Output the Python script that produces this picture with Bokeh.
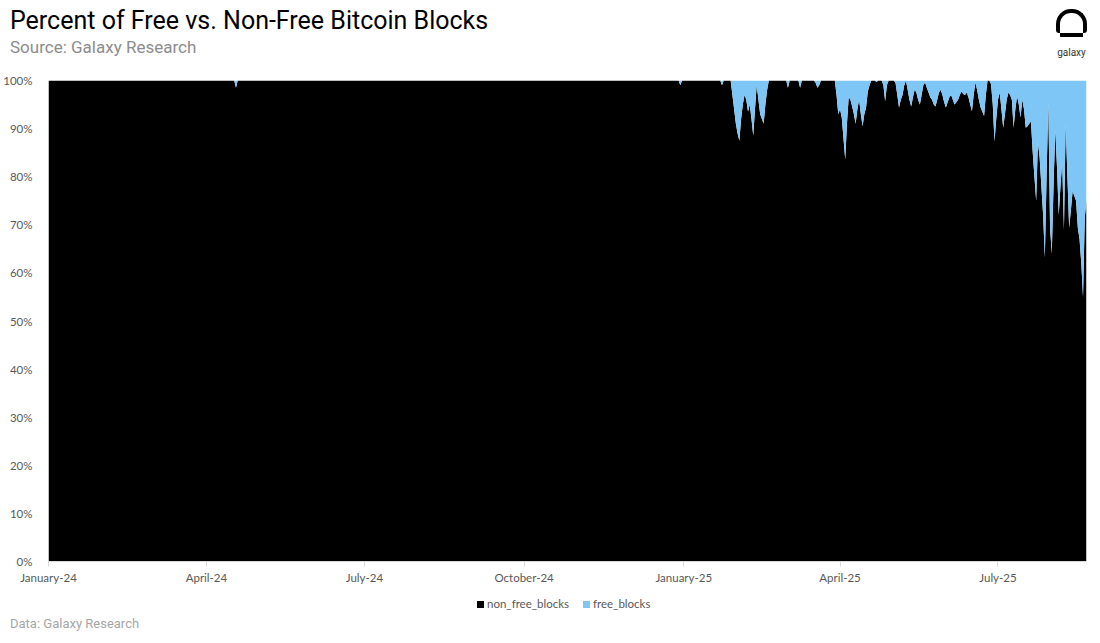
import pandas as pd
from bokeh.plotting import figure
from bokeh.layouts import column
from bokeh.models import (ColumnDataSource, Range1d, FixedTicker, NumeralTickFormatter,
                          DatetimeTickFormatter, Div)
from bokeh.embed import file_html
from bokeh.resources import INLINE

# ---------------- data ----------------
start_date = "2024-01-01"
# daily share of free blocks (%) from 2024-01-01 to 2025-08-21
free_pct = [
    0, 0, 0, 0, 0, 0, 0, 0, 0, 0, 0, 0, 0, 0, 0, 0, 0, 0, 0, 0,
    0, 0, 0, 0, 0, 0, 0, 0, 0, 0, 0, 0, 0, 0, 0, 0, 0, 0, 0, 0,
    0, 0, 0, 0, 0, 0, 0, 0, 0, 0, 0, 0, 0, 0, 0, 0, 0, 0, 0, 0,
    0, 0, 0, 0, 0, 0, 0, 0, 0, 0, 0, 0, 0, 0, 0, 0, 0, 0, 0, 0,
    0, 0, 0, 0, 0, 0, 0, 0, 0, 0, 0, 0, 0, 0, 0, 0, 0, 0, 0, 0,
    0, 0, 0, 0, 0, 0, 0, 0, 1.5, 0, 0, 0, 0, 0, 0, 0, 0, 0, 0, 0,
    0, 0, 0, 0, 0, 0, 0, 0, 0, 0, 0, 0, 0, 0, 0, 0, 0, 0, 0, 0,
    0, 0, 0, 0, 0, 0, 0, 0, 0, 0, 0, 0, 0, 0, 0, 0, 0, 0, 0, 0,
    0, 0, 0, 0, 0, 0, 0, 0, 0, 0, 0, 0, 0, 0, 0, 0, 0, 0, 0, 0,
    0, 0, 0, 0, 0, 0, 0, 0, 0, 0, 0, 0, 0, 0, 0, 0, 0, 0, 0, 0,
    0, 0, 0, 0, 0, 0, 0, 0, 0, 0, 0, 0, 0, 0, 0, 0, 0, 0, 0, 0,
    0, 0, 0, 0, 0, 0, 0, 0, 0, 0, 0, 0, 0, 0, 0, 0, 0, 0, 0, 0,
    0, 0, 0, 0, 0, 0, 0, 0, 0, 0, 0, 0, 0, 0, 0, 0, 0, 0, 0, 0,
    0, 0, 0, 0, 0, 0, 0, 0, 0, 0, 0, 0, 0, 0, 0, 0, 0, 0, 0, 0,
    0, 0, 0, 0, 0, 0, 0, 0, 0, 0, 0, 0, 0, 0, 0, 0, 0, 0, 0, 0,
    0, 0, 0, 0, 0, 0, 0, 0, 0, 0, 0, 0, 0, 0, 0, 0, 0, 0, 0, 0,
    0, 0, 0, 0, 0, 0, 0, 0, 0, 0, 0, 0, 0, 0, 0, 0, 0, 0, 0, 0,
    0, 0, 0, 0, 0, 0, 0, 0, 0, 0, 0, 0, 0, 0, 0, 0, 0, 0, 0, 0,
    0, 0, 0, 0, 1.0, 0, 0, 0, 0, 0, 0, 0, 0, 0, 0, 0, 0, 0, 0, 0,
    0, 0, 0, 0, 0, 0, 0, 0, 1.0, 0, 0, 0, 0, 0, 3, 6, 9, 11, 12.5, 8,
    5, 3, 4, 6.5, 5, 8, 11.5, 6, 1, 4, 7, 8, 9, 5, 2, 0, 0, 0, 0, 0,
    0, 0, 0, 0, 0, 0, 1.5, 0, 0, 0, 0, 0, 0, 1.5, 0, 0, 0, 0, 0, 0,
    0, 0, 0.5, 1.5, 1.0, 0, 0, 0, 0, 0, 0, 0, 0, 0, 3, 7, 6, 7.7, 12, 16.4,
    9, 3.5, 4, 5.4, 7, 9, 6, 4, 7, 9.5, 7, 5.6, 2.3, 1, 0, 0, 0, 0.3, 0, 0,
    0, 1, 4.3, 1, 0, 0, 0, 0, 0.5, 3, 5.6, 4, 3, 1, 0, 2, 4, 5.4, 3.5, 1.9,
    2.5, 4, 5, 3, 1, 0.4, 1.5, 2.5, 3.5, 4, 5, 5.4, 4, 2.5, 1.9, 3, 4.5, 5.6, 4.5, 3.5,
    3, 4, 5, 4.5, 4, 3, 2.3, 2.8, 3, 2.5, 3.5, 5, 6.4, 3, 0.4, 2, 4, 5.6, 6.5, 7.4,
    3, 0, 0, 0.8, 5, 12.7, 8, 4, 2.5, 6, 9.8, 7, 4, 2.5, 3, 4, 9.8, 6, 3.3, 5,
    7.7, 4, 6, 9.8, 9.5, 9, 8.5, 14.8, 20, 25, 12.9, 16, 22, 27.9, 36.8, 20, 4.6, 30.6, 36, 22,
    10.2, 18, 27.9, 22, 17, 31, 9, 20, 30.6, 27, 23, 24, 25, 30.6, 33, 38, 45, 28.5, 25,
]
series_names = ["non_free_blocks", "free_blocks"]
series_colors = ["#000000", "#7DC6F6"]
tick_dates = ["2024-01-01", "2024-04-01", "2024-07-01", "2024-10-01",
              "2025-01-01", "2025-04-01", "2025-07-01"]
y_ticks = [0, 0.1, 0.2, 0.3, 0.4, 0.5, 0.6, 0.7, 0.8, 0.9, 1.0]
title_text = "Percent of Free vs. Non-Free Bitcoin Blocks"
subtitle_text = "Source: Galaxy Research"
footer_text = "Data: Galaxy Research"
logo_text = "galaxy"

dates = pd.date_range(start_date, periods=len(free_pct), freq="D")
free_share = [v / 100.0 for v in free_pct]
non_free_share = [1.0 - v for v in free_share]
source = ColumnDataSource(dict(date=dates, non_free_blocks=non_free_share, free_blocks=free_share))

W = 1096
HDR_H, MAIN_H, FTR_H = 72, 519, 52

# ---------------- header (title, subtitle, logo) ----------------
header_html = f"""
<div style="position:relative;width:{W}px;height:{HDR_H}px;margin:0;padding:0;">
  <div style="position:absolute;left:10px;top:5px;font-family:Roboto;font-size:25px;line-height:32px;
              color:#000000;white-space:nowrap;">{title_text}</div>
  <div style="position:absolute;left:10px;top:36px;font-family:Roboto;font-size:17px;line-height:22px;
              color:#8C8C8C;white-space:nowrap;">{subtitle_text}</div>
  <div style="position:absolute;left:1056px;top:9px;width:31px;height:24px;box-sizing:border-box;
              border:4px solid #000000;border-bottom:0;border-radius:15px 15px 3px 3px;"></div>
  <div style="position:absolute;left:1060px;top:33px;width:23px;height:4px;background:#000000;"></div>
  <div style="position:absolute;left:1051px;top:46px;width:41px;text-align:center;font-family:Roboto;
              font-size:10px;line-height:14px;color:#333333;">{logo_text}</div>
</div>
"""
header = Div(text=header_html, width=W, height=HDR_H, margin=0)

# ---------------- main chart ----------------
p = figure(width=W, height=MAIN_H, x_axis_type="datetime",
           x_range=Range1d(dates[0], dates[-1]), y_range=Range1d(0, 1),
           output_backend="svg", toolbar_location=None,
           min_border_left=48, min_border_right=10, min_border_top=8, min_border_bottom=30)
p.outline_line_color = None
p.background_fill_color = "white"
p.border_fill_color = "white"
p.grid.visible = False

renderers = p.varea_stack(stackers=series_names, x="date", color=series_colors, source=source)

tick_ms = [pd.Timestamp(d).value / 1e6 for d in tick_dates]
p.xaxis.ticker = FixedTicker(ticks=tick_ms)
fmt = "%B-%y"
p.xaxis.formatter = DatetimeTickFormatter(days=fmt, months=fmt, years=fmt, hours=fmt,
                                          minutes=fmt, seconds=fmt, milliseconds=fmt,
                                          microseconds=fmt, hourmin=fmt, minsec=fmt)
p.xaxis.axis_line_color = "#D9D9D9"
p.xaxis.major_tick_line_color = "#D9D9D9"
p.xaxis.major_tick_out = 5
p.xaxis.major_tick_in = 0
p.xaxis.minor_tick_line_color = None
p.xaxis.major_label_standoff = 4
p.xaxis.major_label_text_font = "Lato"
p.xaxis.major_label_text_font_size = "11.5px"
p.xaxis.major_label_text_color = "#595959"

p.yaxis.ticker = FixedTicker(ticks=y_ticks)
p.yaxis.formatter = NumeralTickFormatter(format="0%")
p.yaxis.axis_line_color = None
p.yaxis.major_tick_line_color = None
p.yaxis.minor_tick_line_color = None
p.yaxis.major_label_standoff = 10
p.yaxis.major_label_text_font = "Lato"
p.yaxis.major_label_text_font_size = "11.5px"
p.yaxis.major_label_text_color = "#595959"

# ---------------- footer (legend + data note) ----------------
lab_style = ("position:absolute;top:6px;font-family:Lato;font-size:11.5px;line-height:14px;"
             "color:#595959;white-space:nowrap;")
footer_html = f"""
<div style="position:relative;width:{W}px;height:{FTR_H}px;margin:0;padding:0;">
  <div style="position:absolute;left:477px;top:10px;width:7px;height:7px;background:{series_colors[0]};"></div>
  <div style="{lab_style}left:487px;">{series_names[0]}</div>
  <div style="position:absolute;left:583px;top:10px;width:7px;height:7px;background:{series_colors[1]};"></div>
  <div style="{lab_style}left:593px;">{series_names[1]}</div>
  <div style="position:absolute;left:10px;top:24px;font-family:Roboto;font-size:13px;line-height:18px;
              color:#A6A6A6;white-space:nowrap;">{footer_text}</div>
</div>
"""
footer = Div(text=footer_html, width=W, height=FTR_H, margin=0)

layout = column(header, p, footer, spacing=0)
open("out.html", "w").write(file_html(layout, INLINE))
